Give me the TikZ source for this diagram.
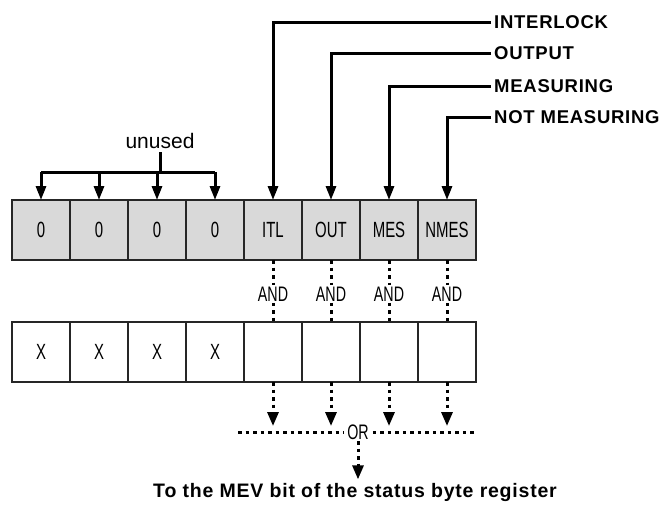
\documentclass[tikz,border=0pt]{standalone}
\usepackage{fontspec}
\setmainfont{Liberation Sans}
\newfontfamily\cellfont[FakeStretch=0.68]{Liberation Sans}
\newfontfamily\labelfont[LetterSpace=4]{Liberation Sans}
\usetikzlibrary{arrows.meta}
\usetikzlibrary{positioning}
\tikzset{cell/.style = {draw=black!85, line width=1.6pt, minimum width=58pt,
                        minimum height=60pt, inner sep=0pt, outer sep=0pt,
                        font=\fontsize{22}{22}\selectfont\cellfont},
         topcell/.style = {cell, fill=black!15},
         sig/.style = {line width=3pt, -{Triangle[width=10pt,length=14pt]}},
         dots/.style = {line width=3pt, dash pattern=on 3.5pt off 4pt},
         dotarrow/.style = {dots, -{Triangle[width=11pt,length=14pt]}},
         gate/.style = {inner sep=1.5pt, font=\fontsize{21}{21}\selectfont\cellfont},
         signame/.style = {anchor=west, inner sep=3pt, font=\fontsize{18.5}{18.5}\selectfont\labelfont\bfseries}}

\begin{document}
\begin{tikzpicture}[x=1pt, y=-1pt]
    \useasboundingbox (0, 0) rectangle (666, 504);

    % registers
    \node [topcell] (t1) at (41, 230) {0};
    \node [cell] (b1) at (41, 352) {X};
    \foreach \i/\p/\txt in {2/1/0, 3/2/0, 4/3/0, 5/4/ITL, 6/5/OUT, 7/6/MES, 8/7/NMES} {
      \node [topcell, right=0pt of t\p] (t\i) {\txt};
      \ifnum\i<5
        \node [cell, right=0pt of b\p] (b\i) {X};
      \else
        \node [cell, right=0pt of b\p] (b\i) {};
      \fi
    }

    % unused bits
    \node [font=\fontsize{21}{21}\selectfont] (unused) at (160, 141) {unused};
    \coordinate (ubar) at (160, 172);
    \draw [line width=3pt] (unused.south) -- (ubar);
    \draw [line width=3pt] (t1.north |- ubar) -- (t4.north |- ubar);
    \foreach \i in {1, ..., 4}
      \draw [sig] (t\i.north |- ubar) -- (t\i.north);

    % status signals
    \node [signame] (il) at (491, 22) {INTERLOCK};
    \node [signame] (op) at (491, 53) {OUTPUT};
    \node [signame] (ms) at (491, 86) {MEASURING};
    \node [signame] (nm) at (491, 117) {NOT MEASURING};
    \draw [sig] (il.west) -| (t5.north);
    \draw [sig] (op.west) -| (t6.north);
    \draw [sig] (ms.west) -| (t7.north);
    \draw [sig] (nm.west) -| (t8.north);

    % AND between the registers
    \foreach \i in {5, ..., 8} {
      \node [gate] (and\i) at (t\i |- 0, 294) {AND};
      \draw [dots] (t\i.south) -- (and\i.north);
      \draw [dots] (and\i.south) -- (b\i.north);
    }

    % OR of the enabled bits
    \node [gate, inner xsep=4pt] (or) at (358, 432) {OR};
    \coordinate (orl) at (238, 432);
    \coordinate (orr) at (474, 432);
    \coordinate (tips) at (0, 426);
    \draw [dots] (orl) -- (or.west);
    \draw [dots] (or.east) -- (orr);
    \foreach \i in {5, ..., 8}
      \draw [dotarrow] (b\i.south) -- (b\i.south |- tips);

    \node [font=\fontsize{19.5}{19.5}\selectfont\labelfont\bfseries] (mev) at (355, 492)
      {To the MEV bit of the status byte register};
    \draw [dotarrow] (or.south) -- (or.south |- mev.north);
\end{tikzpicture}
\end{document}
